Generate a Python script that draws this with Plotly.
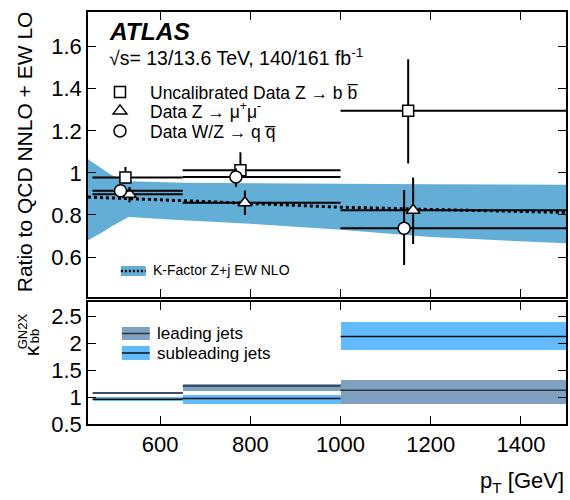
import plotly.graph_objects as go

# ---- binning -------------------------------------------------------------
bin_edges = [450, 650, 1000, 1500]

# ---- upper panel: data / (QCD NNLO + EW LO) ---------------------------------
zbb_x = [523, 778, 1150]
zbb_y = [0.978, 1.013, 1.295]
zbb_err_up = [0.05, 0.085, 0.245]
zbb_err_dn = [0.03, 0.04, 0.25]

zmm_x = [532, 788, 1161]
zmm_y = [0.898, 0.858, 0.822]
zmm_err_up = [0.035, 0.058, 0.156]
zmm_err_dn = [0.038, 0.058, 0.16]

wz_x = [512, 768, 1141]
wz_y = [0.915, 0.981, 0.737]
wz_err_up = [0.02, 0.04, 0.182]
wz_err_dn = [0.02, 0.047, 0.175]

# EW NLO K-factor (Z+jets) with its uncertainty band
kf_x = [440, 470, 492, 510, 530, 650, 800, 1000, 1200, 1500]
kf_central = [0.885, 0.883, 0.881, 0.879, 0.878, 0.868, 0.855, 0.837, 0.826, 0.812]
kf_upper = [1.065, 1.022, 0.99, 0.972, 0.96, 0.953, 0.95, 0.948, 0.946, 0.944]
kf_lower = [0.68, 0.715, 0.745, 0.765, 0.79, 0.775, 0.758, 0.73, 0.695, 0.665]

# ---- lower panel: kappa_bb^GN2X -------------------------------------------
lead_k = [1.075, 1.205, 1.13]
lead_lo = [1.06, 1.11, 0.87]
lead_hi = [1.09, 1.25, 1.31]

sub_k = [0.96, 0.975, 2.13]
sub_lo = [0.925, 0.875, 1.88]
sub_hi = [1.0, 1.045, 2.39]

# ---- styles ------------------------------------------------------------------
FONT = "Liberation Sans, Arial, Helvetica, sans-serif"
BAND_BLUE = "#63AED6"
LEAD_COL = "#7FA0BF"
SUB_COL = "#62BBFF"

W, H = 570, 500
ML, MR, MT, MB = 88, 2, 12, 76
PW, PH = W - ML - MR, H - MT - MB


def px_x(p):
    return (p - ML) / PW


def px_y(p):
    return (H - MB - p) / PH


lo_edges = bin_edges[:-1]
hi_edges = bin_edges[1:]

fig = go.Figure()

# K-factor band and central value
fig.add_trace(go.Scatter(x=kf_x, y=kf_lower, mode="lines", line=dict(width=0),
                         hoverinfo="skip", showlegend=False, xaxis="x2", yaxis="y"))
fig.add_trace(go.Scatter(x=kf_x, y=kf_upper, mode="lines", line=dict(width=0),
                         fill="tonexty", fillcolor=BAND_BLUE, hoverinfo="skip",
                         showlegend=False, xaxis="x2", yaxis="y"))
fig.add_trace(go.Scatter(x=kf_x, y=kf_central, mode="lines",
                         line=dict(color="black", width=3, dash="3px,3px"),
                         showlegend=False, xaxis="x2", yaxis="y"))


def data_trace(name, xs, ys, eu, ed, symbol, size, legend):
    return go.Scatter(
        x=xs, y=ys, mode="markers", name=name, legend=legend,
        marker=dict(symbol=symbol, size=size, color="white",
                    line=dict(color="black", width=1.5)),
        error_y=dict(type="data", symmetric=False, array=eu, arrayminus=ed,
                     color="black", thickness=2, width=0),
        error_x=dict(type="data", symmetric=False,
                     array=[h - x for h, x in zip(hi_edges, xs)],
                     arrayminus=[x - l for l, x in zip(lo_edges, xs)],
                     color="black", thickness=2, width=0),
        xaxis="x2", yaxis="y",
    )


fig.add_trace(data_trace("Uncalibrated Data Z \u2192 b b\u0305", zbb_x, zbb_y,
                         zbb_err_up, zbb_err_dn, "square", 11, "legend"))
fig.add_trace(data_trace("Data Z \u2192 \u03bc<sup>+</sup>\u03bc<sup>-</sup>", zmm_x, zmm_y,
                         zmm_err_up, zmm_err_dn, "triangle-up", 12, "legend2"))
fig.add_trace(data_trace("Data W/Z \u2192 q q\u0305", wz_x, wz_y,
                         wz_err_up, wz_err_dn, "circle", 12, "legend3"))

# lower panel bands
centers = [(l + h) / 2 for l, h in zip(lo_edges, hi_edges)]
widths = [h - l for l, h in zip(lo_edges, hi_edges)]
fig.add_trace(go.Bar(x=centers, width=widths, base=lead_lo,
                     y=[h - l for l, h in zip(lead_lo, lead_hi)],
                     marker=dict(color=LEAD_COL, line=dict(width=0)),
                     showlegend=False, xaxis="x", yaxis="y2"))
fig.add_trace(go.Bar(x=centers, width=widths, base=sub_lo,
                     y=[h - l for l, h in zip(sub_lo, sub_hi)],
                     marker=dict(color=SUB_COL, line=dict(width=0)),
                     showlegend=False, xaxis="x", yaxis="y2"))


def seg_line(vals):
    xs, ys = [], []
    for l, h, v in zip(lo_edges, hi_edges, vals):
        xs += [l, h, None]
        ys += [v, v, None]
    return xs, ys


for vals, col in [(lead_k, "#2b3440"), (sub_k, "#111111")]:
    sx, sy = seg_line(vals)
    fig.add_trace(go.Scatter(x=sx, y=sy, mode="lines", line=dict(color=col, width=1.5),
                             showlegend=False, xaxis="x", yaxis="y2"))

axis_common = dict(showline=True, linecolor="black", linewidth=1.5, mirror="allticks",
                   ticks="inside", ticklen=8, tickwidth=1, tickcolor="black",
                   showgrid=False, zeroline=False,
                   tickfont=dict(family=FONT, size=22, color="black"))

top_dom = [(H - MB - 297) / PH, 1]
bot_dom = [0, (H - MB - 302) / PH]


def leg(row_y):
    return dict(x=px_x(90), y=px_y(row_y), xanchor="left", yanchor="middle",
                bgcolor="rgba(0,0,0,0)", font=dict(family=FONT, size=17.5),
                itemwidth=50, borderwidth=0)


fig.update_layout(
    width=W, height=H,
    margin=dict(l=ML, r=MR, t=MT, b=MB),
    paper_bgcolor="white", plot_bgcolor="white",
    barmode="overlay", bargap=0,
    font=dict(family=FONT, color="black"),
    xaxis=dict(axis_common, domain=[0, 1], anchor="y2", range=[440, 1500],
               tickvals=[600, 800, 1000, 1200, 1400]),
    xaxis2=dict(axis_common, domain=[0, 1], anchor="y", range=[440, 1500],
                matches="x", showticklabels=False,
                tickvals=[600, 800, 1000, 1200, 1400]),
    yaxis=dict(axis_common, domain=top_dom, anchor="x2", range=[0.41, 1.765],
               tickvals=[0.6, 0.8, 1.0, 1.2, 1.4, 1.6]),
    yaxis2=dict(axis_common, domain=bot_dom, anchor="x", range=[0.5, 2.77],
                tickvals=[0.5, 1, 1.5, 2, 2.5]),
    showlegend=True,
    legend=leg(92),
    legend2=leg(111),
    legend3=leg(131),
)

ann = []
ann.append(dict(text="<b><i>ATLAS</i></b>", x=px_x(107), y=px_y(32), xanchor="left",
                yanchor="middle", font=dict(size=24.5)))
ann.append(dict(text="\u221as= 13/13.6 TeV, 140/161 fb<sup>-1</sup>", x=px_x(107),
                y=px_y(57), xanchor="left", yanchor="middle", font=dict(size=19.5)))
ann.append(dict(text="K-Factor Z+j EW NLO", x=px_x(151), y=px_y(270), xanchor="left",
                yanchor="middle", font=dict(size=14)))
ann.append(dict(text="leading jets", x=px_x(155), y=px_y(333), xanchor="left",
                yanchor="middle", font=dict(size=17)))
ann.append(dict(text="subleading jets", x=px_x(155), y=px_y(353), xanchor="left",
                yanchor="middle", font=dict(size=17)))
ann.append(dict(text="Ratio to QCD NNLO + EW LO", x=px_x(25), y=px_y(152), textangle=-90,
                xanchor="center", yanchor="middle", font=dict(size=21)))
ann.append(dict(text="\u03ba", x=px_x(31), y=px_y(351), textangle=-90,
                xanchor="center", yanchor="middle", font=dict(size=21)))
ann.append(dict(text="GN2X", x=px_x(22), y=px_y(331), textangle=-90,
                xanchor="center", yanchor="middle", font=dict(size=13)))
ann.append(dict(text="bb", x=px_x(34), y=px_y(336), textangle=-90,
                xanchor="center", yanchor="middle", font=dict(size=13)))
ann.append(dict(text="p<sub>T</sub> [GeV]", x=1, y=px_y(482), xanchor="right",
                yanchor="middle", font=dict(size=22)))
for a in ann:
    a.update(xref="paper", yref="paper", showarrow=False)
fig.update_layout(annotations=ann)

# legend keys for the bands
shapes = [
    dict(type="rect", x0=px_x(121), x1=px_x(146), y0=px_y(276), y1=px_y(266),
         fillcolor=BAND_BLUE, line=dict(width=0)),
    dict(type="line", x0=px_x(121), x1=px_x(146), y0=px_y(271), y1=px_y(271),
         line=dict(color="black", width=2.5, dash="2px,2px")),
    dict(type="rect", x0=px_x(122), x1=px_x(150), y0=px_y(340), y1=px_y(327),
         fillcolor=LEAD_COL, line=dict(width=0)),
    dict(type="line", x0=px_x(122), x1=px_x(150), y0=px_y(333.5), y1=px_y(333.5),
         line=dict(color="#2b3440", width=1.5)),
    dict(type="rect", x0=px_x(122), x1=px_x(150), y0=px_y(360), y1=px_y(346),
         fillcolor=SUB_COL, line=dict(width=0)),
    dict(type="line", x0=px_x(122), x1=px_x(150), y0=px_y(353), y1=px_y(353),
         line=dict(color="#111111", width=1.5)),
]
for s in shapes:
    s.update(xref="paper", yref="paper")
fig.update_layout(shapes=shapes)

fig.write_html("out.html")
